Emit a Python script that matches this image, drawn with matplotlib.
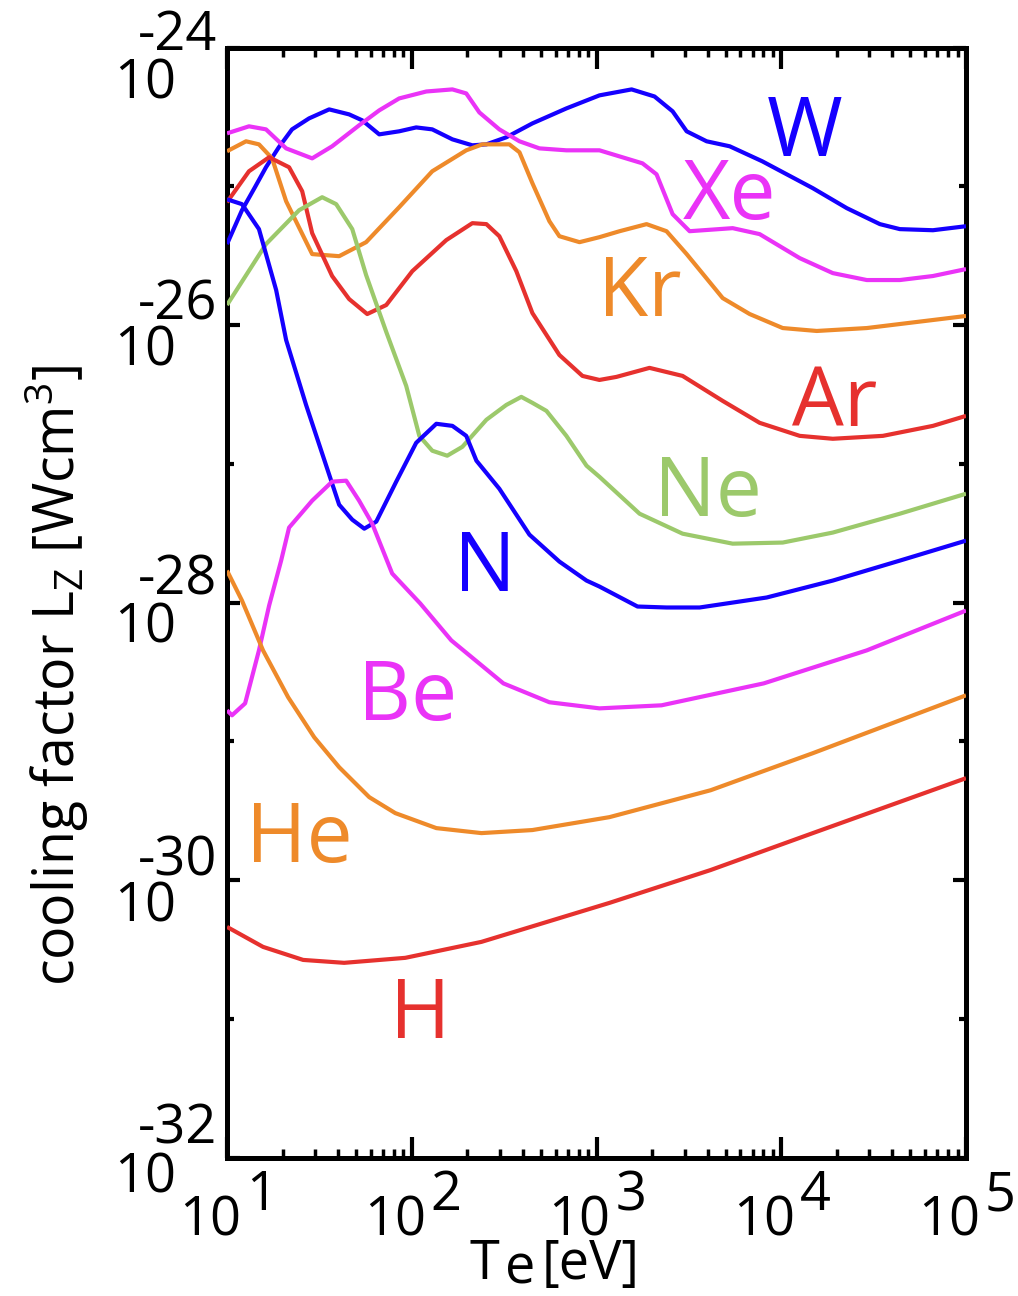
import matplotlib
matplotlib.use("Agg")
import matplotlib.pyplot as plt
import matplotlib.transforms as mtransforms
from matplotlib.ticker import FixedLocator, NullFormatter
import numpy as np

plt.rcParams['font.family'] = ['Open Sans', 'DejaVu Sans']
plt.rcParams['mathtext.fontset'] = 'custom'
plt.rcParams['mathtext.rm'] = 'Open Sans'
plt.rcParams['mathtext.it'] = 'Open Sans:italic'
plt.rcParams['mathtext.bf'] = 'Open Sans:bold'

# ---- data: log10(Te [eV]) and log10(Lz [W cm^3]) ----
W_logT = [1.000, 1.081, 1.150, 1.211, 1.280, 1.352, 1.444, 1.553, 1.661, 1.732, 1.824, 1.932, 2.024,
          2.111, 2.220, 2.328, 2.404, 2.512, 2.653, 2.837, 3.016, 3.190, 3.314, 3.412, 3.488, 3.596,
          3.721, 3.897, 4.171, 4.355, 4.534, 4.642, 4.821, 5.000]
W_logL = [-25.417, -25.173, -25.010, -24.863, -24.720, -24.590, -24.511, -24.446, -24.482, -24.525,
          -24.626, -24.604, -24.576, -24.590, -24.662, -24.705, -24.698, -24.647, -24.547, -24.439,
          -24.345, -24.302, -24.353, -24.460, -24.604, -24.676, -24.712, -24.820, -25.014, -25.158,
          -25.273, -25.309, -25.317, -25.288]

Xe_logT = [1.000, 1.119, 1.211, 1.320, 1.461, 1.569, 1.715, 1.824, 1.932, 2.079, 2.220, 2.295, 2.366,
           2.474, 2.583, 2.691, 2.837, 3.016, 3.249, 3.325, 3.412, 3.504, 3.737, 3.883, 4.100, 4.279,
           4.463, 4.642, 4.821, 5.000]
Xe_logL = [-24.619, -24.568, -24.590, -24.727, -24.799, -24.712, -24.561, -24.453, -24.367, -24.317,
           -24.302, -24.331, -24.468, -24.590, -24.676, -24.727, -24.741, -24.741, -24.835, -24.914,
           -25.201, -25.324, -25.302, -25.345, -25.518, -25.626, -25.676, -25.676, -25.647, -25.597]

Kr_logT = [1.000, 1.103, 1.173, 1.244, 1.320, 1.461, 1.607, 1.753, 1.932, 2.111, 2.295, 2.382, 2.528,
           2.583, 2.653, 2.745, 2.799, 2.908, 3.016, 3.125, 3.271, 3.379, 3.488, 3.683, 3.829, 4.008,
           4.192, 4.463, 5.000]
Kr_logL = [-24.748, -24.676, -24.698, -24.799, -25.108, -25.489, -25.504, -25.403, -25.151, -24.892,
           -24.741, -24.698, -24.698, -24.755, -24.978, -25.252, -25.360, -25.403, -25.367, -25.324,
           -25.273, -25.324, -25.489, -25.806, -25.921, -26.022, -26.043, -26.022, -25.935]

Ar_logT = [1.000, 1.119, 1.228, 1.336, 1.407, 1.461, 1.569, 1.661, 1.759, 1.862, 2.003, 2.187, 2.328,
           2.404, 2.474, 2.566, 2.653, 2.799, 2.924, 3.016, 3.108, 3.287, 3.466, 3.683, 3.883, 4.100,
           4.279, 4.550, 4.821, 5.000]
Ar_logL = [-25.115, -24.892, -24.791, -24.863, -25.036, -25.338, -25.647, -25.813, -25.921, -25.856,
           -25.612, -25.388, -25.266, -25.273, -25.360, -25.612, -25.914, -26.216, -26.367, -26.396,
           -26.374, -26.309, -26.367, -26.547, -26.705, -26.799, -26.820, -26.799, -26.727, -26.655]

Ne_logT = [1.000, 1.211, 1.390, 1.515, 1.591, 1.678, 1.753, 1.862, 1.970, 2.041, 2.111, 2.192, 2.274,
           2.404, 2.512, 2.593, 2.653, 2.729, 2.837, 2.946, 3.016, 3.233, 3.466, 3.737, 4.008, 4.279,
           4.642, 5.000]
Ne_logL = [-25.856, -25.417, -25.173, -25.079, -25.129, -25.309, -25.640, -26.050, -26.439, -26.799,
           -26.906, -26.942, -26.878, -26.683, -26.576, -26.518, -26.561, -26.619, -26.799, -27.014,
           -27.094, -27.360, -27.504, -27.576, -27.568, -27.496, -27.360, -27.216]

N_logT = [1.000, 1.081, 1.173, 1.266, 1.320, 1.428, 1.537, 1.607, 1.678, 1.743, 1.808, 1.916, 2.024,
          2.133, 2.220, 2.295, 2.350, 2.474, 2.637, 2.799, 2.946, 3.016, 3.222, 3.379, 3.558, 3.921,
          4.279, 4.642, 5.000]
N_logL = [-25.094, -25.129, -25.309, -25.748, -26.108, -26.576, -27.014, -27.295, -27.403, -27.468,
          -27.417, -27.129, -26.849, -26.712, -26.727, -26.799, -26.978, -27.180, -27.511, -27.705,
          -27.842, -27.885, -28.029, -28.036, -28.036, -27.964, -27.842, -27.698, -27.554]

Be_logT = [1.000, 1.027, 1.098, 1.173, 1.228, 1.293, 1.336, 1.461, 1.569, 1.645, 1.715, 1.786, 1.894,
           2.046, 2.214, 2.496, 2.745, 3.016, 3.352, 3.905, 4.463, 5.000]
Be_logL = [-28.777, -28.813, -28.727, -28.345, -28.022, -27.698, -27.460, -27.266, -27.129, -27.122,
           -27.266, -27.432, -27.791, -28.007, -28.273, -28.583, -28.719, -28.763, -28.741, -28.583,
           -28.345, -28.058]

He_logT = [1.000, 1.081, 1.195, 1.331, 1.472, 1.607, 1.770, 1.911, 2.133, 2.377, 2.653, 3.070, 3.618,
           4.171, 5.000]
He_logL = [-27.770, -27.986, -28.345, -28.683, -28.971, -29.187, -29.403, -29.518, -29.626, -29.662,
           -29.640, -29.547, -29.353, -29.086, -28.669]

H_logT = [1.000, 1.195, 1.412, 1.634, 1.965, 2.377, 3.070, 3.618, 4.171, 5.000]
H_logL = [-30.338, -30.482, -30.576, -30.597, -30.561, -30.446, -30.165, -29.928, -29.662, -29.266]

species = ['W', 'Xe', 'Kr', 'Ar', 'Ne', 'N', 'Be', 'He', 'H']
curves = {
    'W': (W_logT, W_logL), 'Xe': (Xe_logT, Xe_logL), 'Kr': (Kr_logT, Kr_logL),
    'Ar': (Ar_logT, Ar_logL), 'Ne': (Ne_logT, Ne_logL), 'N': (N_logT, N_logL),
    'Be': (Be_logT, Be_logL), 'He': (He_logT, He_logL), 'H': (H_logT, H_logL),
}

x_decades = [1, 2, 3, 4, 5]
y_decades = [-24, -26, -28, -30, -32]
y_minor_decades = [-25, -27, -29, -31]

# ---- styles ----
BLUE = '#1500FF'
MAG = '#EA33F7'
ORG = '#EE8A2A'
RED = '#E6312E'
GRN = '#9CC96B'
colors = {'W': BLUE, 'Xe': MAG, 'Kr': ORG, 'Ar': RED, 'Ne': GRN,
          'N': BLUE, 'Be': MAG, 'He': ORG, 'H': RED}
# label anchor positions (log10 T, log10 L) for the species names
label_pos = {'W': (4.127, -24.784), 'Xe': (3.721, -25.237), 'Kr': (3.233, -25.935),
             'Ar': (4.290, -26.727), 'Ne': (3.602, -27.374), 'N': (2.398, -27.914),
             'Be': (1.976, -28.849), 'He': (1.390, -29.871), 'H': (2.046, -31.137)}

W_PX, H_PX = 1018, 1296
fig = plt.figure(figsize=(W_PX / 100, H_PX / 100), dpi=100)
ax = fig.add_axes([227 / W_PX, 1 - 1157.5 / H_PX, (966 - 227) / W_PX, (1157.5 - 47.5) / H_PX])

for s in species:
    lt, ll = curves[s]
    ax.plot(10 ** np.array(lt), 10 ** np.array(ll), color=colors[s], lw=3.0,
            solid_joinstyle='round', solid_capstyle='butt', zorder=3)

ax.set_xscale('log')
ax.set_yscale('log')
ax.set_xlim(10.0 ** x_decades[0], 10.0 ** x_decades[-1])
ax.set_ylim(10.0 ** y_decades[-1], 10.0 ** y_decades[0])

for sp in ax.spines.values():
    sp.set_linewidth(3.6)

# ticks
ax.xaxis.set_major_locator(FixedLocator([10.0 ** d for d in x_decades]))
ax.xaxis.set_minor_locator(FixedLocator([m * 10.0 ** d for d in x_decades[:-1] for m in range(2, 10)]))
ax.yaxis.set_major_locator(FixedLocator([10.0 ** d for d in y_decades]))
ax.yaxis.set_minor_locator(FixedLocator([10.0 ** d for d in y_minor_decades]))
for a in (ax.xaxis, ax.yaxis):
    a.set_major_formatter(NullFormatter())
    a.set_minor_formatter(NullFormatter())
ax.tick_params(axis='x', which='major', direction='in', length=15, width=3.0, top=True, bottom=True)
ax.tick_params(axis='x', which='minor', direction='in', length=6.5, width=2.5, top=True, bottom=True)
ax.tick_params(axis='y', which='major', direction='in', length=9.5, width=3.0, left=True, right=True)
ax.tick_params(axis='y', which='minor', direction='in', length=5, width=3.0, left=True, right=True)

FS = 39
# y tick labels (MATLAB-like "10" with exponent above)
ytr = ax.get_yaxis_transform()
exp_dy = [2, -6, -8, -5, -14]    # px below tick (image coords) of exponent baseline
base_dy = [51, 41, 40, 42, 35]   # px below tick of "10" baseline
for d, e_dy, b_dy in zip(y_decades, exp_dy, base_dy):
    t1 = mtransforms.offset_copy(ytr, fig=fig, x=-10, y=-e_dy, units='dots')
    ax.text(0, 10.0 ** d, '-%d' % abs(d), transform=t1, ha='right', va='baseline',
            fontsize=FS, clip_on=False)
    t2 = mtransforms.offset_copy(ytr, fig=fig, x=-51, y=-b_dy, units='dots')
    ax.text(0, 10.0 ** d, '10', transform=t2, ha='right', va='baseline',
            fontsize=FS, clip_on=False)

# x tick labels
xtr = ax.get_xaxis_transform()
for d in x_decades:
    t1 = mtransforms.offset_copy(xtr, fig=fig, x=14, y=-77.5, units='dots')
    ax.text(10.0 ** d, 0, '10', transform=t1, ha='right', va='baseline', fontsize=FS, clip_on=False)
    t2 = mtransforms.offset_copy(xtr, fig=fig, x=19, y=-53, units='dots')
    ax.text(10.0 ** d, 0, '%d' % d, transform=t2, ha='left', va='baseline', fontsize=FS, clip_on=False)

# species labels
for s in species:
    lx, ly = label_pos[s]
    ax.text(10 ** lx, 10 ** ly, s, color=colors[s], fontsize=59, ha='center', va='baseline', zorder=4)

# axis labels
fig.text(470 / W_PX, 1 - 1279 / H_PX, 'T', fontsize=FS, ha='left', va='baseline')
fig.text(505 / W_PX, 1 - 1284 / H_PX, 'e', fontsize=FS, ha='left', va='baseline')
fig.text(542 / W_PX, 1 - 1279 / H_PX, '[eV]', fontsize=FS, ha='left', va='baseline')

fig.text(57 / W_PX, 1 - 675 / H_PX, r'cooling factor $\mathrm{L_Z}$ [Wcm$^\mathrm{3}$]',
         fontsize=40, rotation=90, ha='center', va='center')

fig.savefig('out.png', dpi=100, facecolor='white')
